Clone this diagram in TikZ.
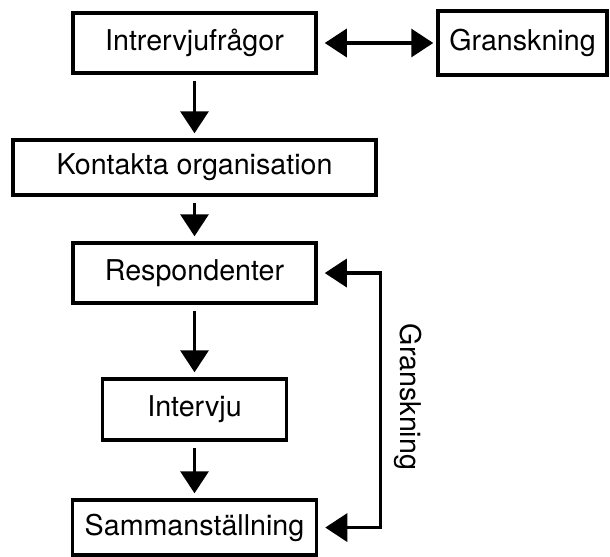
\documentclass[tikz,border=0pt]{standalone}
\usepackage{fontspec}
\setmainfont{TeX Gyre Heros}
\usepackage{tikz}
\usetikzlibrary{arrows.meta, positioning}

\begin{document}
\begin{tikzpicture}[
        box/.style={rectangle, draw, line width=2pt, inner sep=0pt, minimum height=1.2cm,
            font=\fontsize{16.3}{18}\selectfont},
        arr/.style={-{Triangle[length=0.44cm, width=0.56cm]}, line width=1.9pt,
            shorten <=0.12cm, shorten >=0.1cm},
        dbl/.style={{Triangle[length=0.44cm, width=0.56cm]}-{Triangle[length=0.44cm, width=0.56cm]},
            line width=1.9pt, shorten <=0.14cm, shorten >=0.14cm}
    ]
        \useasboundingbox (0,0) rectangle (12.2,-11.14);
        \node[box, minimum width=4.86cm] (fragor) at (3.89,-0.86) {Intrervjufrågor};
        \node[right=2.37cm of fragor, box, minimum width=3.38cm, minimum height=1.28cm] (gransk) {Granskning};
        \node[below=1.27cm of fragor, box, minimum width=7.26cm, minimum height=1.1cm] (kontakt) {Kontakta organisation};
        \node[below=0.89cm of kontakt, box, minimum width=4.86cm] (resp) {Respondenter};
        \node[below=1.45cm of resp, box, minimum width=3.68cm, minimum height=1.22cm] (intervju) {Intervju};
        \node[below=1.13cm of intervju, box, minimum width=4.88cm, minimum height=1.1cm] (samman) {Sammanställning};
        \draw[dbl, shorten >=0.06cm] (fragor) -- (gransk);
        \draw[arr] (fragor) -- (kontakt);
        \draw[arr] (kontakt) -- (resp);
        \draw[arr] (resp) -- (intervju);
        \draw[arr] (intervju) -- (samman);
        \draw[dbl] (resp.east) -- ++(1.26,0) |- (samman.east);
        \node[rotate=-90, font=\fontsize{16.3}{18}\selectfont] (granskfb) at (8.16,-7.94) {Granskning};
    \end{tikzpicture}
\end{document}
